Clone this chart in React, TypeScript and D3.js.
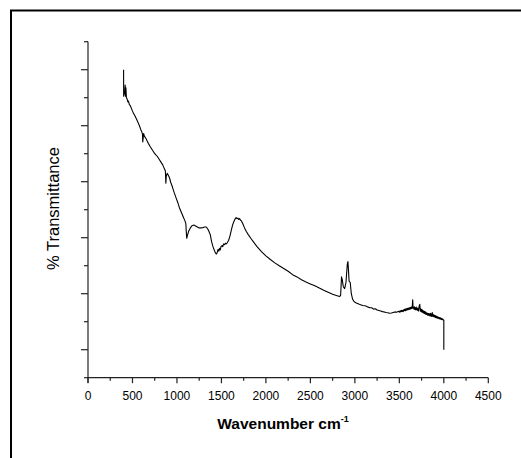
import React from "react";
import * as d3 from "d3";

const wavenumbers: number[] = [
  400, 401, 405, 412, 418, 422, 426, 432, 440, 448, 455, 465, 475, 490, 500, 510, 520, 535, 550, 565,
  580, 595, 605, 612, 616, 620, 625, 635, 650, 665, 680, 700, 720, 740, 760, 780, 800, 820, 840, 860,
  870, 875, 880, 890, 900, 915, 930, 950, 970, 990, 1010, 1030, 1050, 1070, 1090, 1100, 1105, 1110, 1118, 1130,
  1150, 1170, 1190, 1210, 1230, 1250, 1270, 1290, 1310, 1330, 1345, 1360, 1375, 1390, 1405, 1420, 1435, 1445, 1455, 1462,
  1470, 1478, 1486, 1495, 1505, 1515, 1525, 1535, 1545, 1555, 1565, 1580, 1595, 1610, 1625, 1640, 1655, 1665, 1675, 1685,
  1695, 1705, 1715, 1725, 1740, 1760, 1780, 1800, 1830, 1860, 1900, 1950, 2000, 2050, 2100, 2150, 2200, 2250, 2300, 2350,
  2400, 2450, 2500, 2550, 2600, 2650, 2700, 2750, 2800, 2830, 2840, 2850, 2858, 2870, 2885, 2900, 2915, 2922, 2928, 2935,
  2948, 2960, 2975, 2990, 3010, 3030, 3050, 3070, 3090, 3110, 3130, 3150, 3170, 3190, 3210, 3230, 3250, 3270, 3290, 3310,
  3330, 3350, 3370, 3390, 3410, 3430, 3450, 3470, 3490,
  3500, 3505, 3510, 3515, 3520, 3525, 3530, 3535, 3540, 3545, 3550, 3555, 3560, 3565, 3570, 3575, 3580, 3585, 3590, 3595,
  3600, 3605, 3610, 3615, 3620, 3625, 3630, 3635, 3640, 3645, 3650, 3655, 3660, 3665, 3670, 3675, 3680, 3685, 3690, 3695,
  3700, 3705, 3710, 3715, 3720, 3725, 3730, 3735, 3740, 3745, 3750, 3755, 3760, 3765, 3770, 3775, 3780, 3785, 3790, 3795,
  3800, 3805, 3810, 3815, 3820, 3825, 3830, 3835, 3840, 3845, 3850, 3855, 3860, 3865, 3870, 3875, 3880, 3885, 3890, 3895,
  3900, 3905, 3910, 3915, 3920, 3925, 3930, 3935, 3940, 3945, 3950, 3955, 3960, 3965, 3970, 3975, 3980, 3985, 3990, 3995,
  4000, 4000,
];

const transmittance: number[] = [
  11.0, 10.05, 10.1, 10.2, 10.45, 10.05, 10.35, 10.0, 9.95, 9.85, 9.88, 9.75, 9.72, 9.6, 9.52, 9.45, 9.4, 9.3, 9.2, 9.1,
  8.98, 8.85, 8.78, 8.7, 8.42, 8.55, 8.72, 8.62, 8.55, 8.45, 8.36, 8.25, 8.15, 8.05, 7.97, 7.9, 7.8, 7.7, 7.6, 7.45,
  7.38, 6.95, 7.2, 7.3, 7.25, 7.15, 6.98, 6.8, 6.6, 6.42, 6.25, 6.05, 5.9, 5.75, 5.6, 5.5, 5.2, 4.98, 5.08, 5.22,
  5.35, 5.43, 5.45, 5.42, 5.38, 5.35, 5.35, 5.36, 5.38, 5.38, 5.32, 5.22, 5.1, 4.85, 4.68, 4.55, 4.44, 4.42, 4.5, 4.58,
  4.52, 4.62, 4.56, 4.68, 4.72, 4.68, 4.78, 4.75, 4.8, 4.78, 4.82, 4.9, 5.05, 5.25, 5.45, 5.58, 5.68, 5.72, 5.68, 5.7,
  5.65, 5.68, 5.62, 5.6, 5.5, 5.35, 5.22, 5.12, 4.98, 4.85, 4.68, 4.5, 4.35, 4.22, 4.1, 4.0, 3.9, 3.8, 3.68, 3.6,
  3.5, 3.42, 3.35, 3.28, 3.2, 3.12, 3.05, 2.98, 2.93, 2.9, 2.95, 3.6, 3.5, 3.25, 3.18, 3.4, 4.05, 4.15, 3.85, 3.45,
  3.4, 3.0, 2.8, 2.72, 2.68, 2.65, 2.62, 2.6, 2.58, 2.57, 2.55, 2.52, 2.5, 2.5, 2.45, 2.46, 2.42, 2.4, 2.38, 2.36,
  2.35, 2.33, 2.32, 2.3, 2.31, 2.33, 2.35, 2.34, 2.37,
  2.34, 2.38, 2.35, 2.39, 2.36, 2.41, 2.37, 2.4, 2.36, 2.42, 2.38, 2.44, 2.4, 2.45, 2.39, 2.46, 2.41, 2.47, 2.42, 2.48,
  2.43, 2.49, 2.44, 2.5, 2.45, 2.51, 2.46, 2.52, 2.47, 2.53, 2.78, 2.48, 2.52, 2.45, 2.53, 2.44, 2.5, 2.42, 2.52, 2.43,
  2.49, 2.4, 2.47, 2.38, 2.5, 2.58, 2.62, 2.38, 2.46, 2.36, 2.44, 2.34, 2.42, 2.33, 2.39, 2.3, 2.37, 2.29, 2.36, 2.27,
  2.33, 2.26, 2.31, 2.24, 2.3, 2.23, 2.29, 2.22, 2.28, 2.21, 2.3, 2.2, 2.27, 2.19, 2.33, 2.2, 2.26, 2.18, 2.24, 2.17,
  2.22, 2.15, 2.21, 2.14, 2.19, 2.13, 2.18, 2.12, 2.16, 2.11, 2.15, 2.1, 2.14, 2.09, 2.12, 2.08, 2.11, 2.07, 2.09, 2.06,
  2.06, 1.0,
];

const xTickValues: number[] = [0, 500, 1000, 1500, 2000, 2500, 3000, 3500, 4000, 4500];
const xMinorTickValues: number[] = [250, 750, 1250, 1750, 2250, 2750, 3250, 3750, 4250];
const yMajorTickValues: number[] = [1, 3, 5, 7, 9, 11];
const yMinorTickValues: number[] = [0, 2, 4, 6, 8, 10, 12];

const xTitle = "Wavenumber cm";
const xTitleSup = "-1";
const yTitle = "% Transmittance";

export default function App() {
  const width = 521;
  const height = 458;
  const left = 88;
  const right = 488.3;
  const top = 41.7;
  const bottom = 377.7;

  const x = d3.scaleLinear().domain([0, 4500]).range([left, right]);
  const y = d3.scaleLinear().domain([0, 12]).range([bottom, top]);

  const n = Math.min(wavenumbers.length, transmittance.length);
  const pts: [number, number][] = [];
  for (let i = 0; i < n; i++) pts.push([wavenumbers[i], transmittance[i]]);
  const line = d3
    .line<[number, number]>()
    .x((d) => x(d[0]))
    .y((d) => y(d[1]));

  const font = "Arial, 'Liberation Sans', Helvetica, sans-serif";
  const axisColor = "#222";

  return (
    <svg
      width={width}
      height={height}
      style={{ position: "absolute", left: 0, top: 0, background: "#fff" }}
    >
      <rect x={0} y={0} width={width} height={height} fill="#fff" />
      <rect x={11} y={10.5} width={1000} height={1000} fill="none" stroke="#000" strokeWidth={2} />

      {/* y axis */}
      <line x1={left} x2={left} y1={top} y2={bottom + 5} stroke={axisColor} strokeWidth={1.2} />
      {yMajorTickValues.map((v) => (
        <line key={"ym" + v} x1={left - 7} x2={left} y1={y(v)} y2={y(v)} stroke={axisColor} strokeWidth={1.2} />
      ))}
      {yMinorTickValues.map((v) => (
        <line key={"yn" + v} x1={left - 4} x2={left} y1={y(v)} y2={y(v)} stroke={axisColor} strokeWidth={1.2} />
      ))}

      {/* x axis */}
      <line x1={left} x2={right} y1={bottom} y2={bottom} stroke={axisColor} strokeWidth={1.2} />
      {xTickValues.map((v) => (
        <g key={"xt" + v}>
          <line x1={x(v)} x2={x(v)} y1={bottom} y2={bottom + 5.5} stroke={axisColor} strokeWidth={1.2} />
          <text x={x(v)} y={400} textAnchor="middle" fontFamily={font} fontSize={12} fill="#000">
            {v}
          </text>
        </g>
      ))}
      {xMinorTickValues.map((v) => (
        <line key={"xn" + v} x1={x(v)} x2={x(v)} y1={bottom} y2={bottom + 3} stroke={axisColor} strokeWidth={1.2} />
      ))}

      {/* data */}
      <path d={line(pts) || ""} fill="none" stroke="#000" strokeWidth={1.1} strokeLinejoin="round" />

      {/* titles */}
      <text x={283} y={428.5} textAnchor="middle" fontFamily={font} fontSize={15.5} fontWeight="bold" fill="#000">
        {xTitle}
        <tspan fontSize={9} dy={-7}>
          {xTitleSup}
        </tspan>
      </text>
      <text
        transform={`translate(58.5,208.5) rotate(-90)`}
        textAnchor="middle"
        fontFamily={font}
        fontSize={16.5}
        fill="#000"
      >
        {yTitle}
      </text>
    </svg>
  );
}
